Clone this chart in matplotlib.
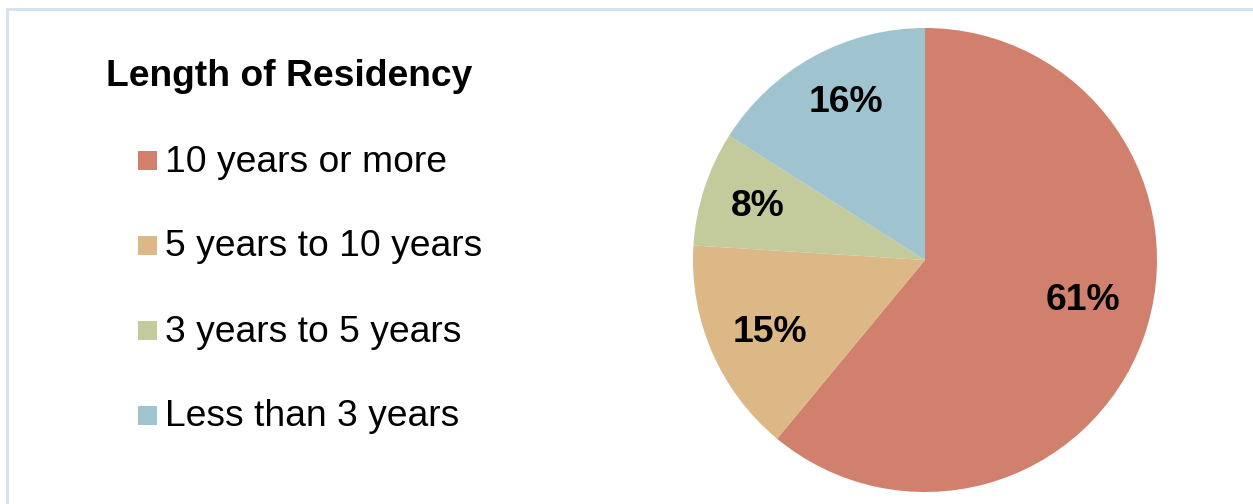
import matplotlib
matplotlib.use("Agg")
import matplotlib.pyplot as plt
from matplotlib.patches import Rectangle

categories = ["10 years or more", "5 years to 10 years", "3 years to 5 years", "Less than 3 years"]
values = [61, 15, 8, 16]
labels = ["61%", "15%", "8%", "16%"]
colors = ["#D0806C", "#DBB885", "#C3CA9B", "#9FC4CF"]
title = "Length of Residency"

W, H = 1253, 504
fig = plt.figure(figsize=(W / 100, H / 100), dpi=100)
plt.rcParams['font.family'] = ['Liberation Sans', 'DejaVu Sans']

# frame
fig.patches.append(Rectangle((7 / W, -0.1), 1.2, 1 - 9 / H + 0.1, transform=fig.transFigure,
                             fill=False, edgecolor="#D3E2EC", linewidth=2))

# pie
cx, cy, r = 925, 260, 232
ax = fig.add_axes([(cx - r) / W, (H - cy - r) / H, 2 * r / W, 2 * r / H])
wedges, _ = ax.pie(values, colors=colors, startangle=90, counterclock=False,
                   wedgeprops=dict(linewidth=0))
ax.set_aspect('equal')
ax.set_xlim(-1, 1)
ax.set_ylim(-1, 1)
ax.axis('off')

label_pos = [(1083, 300), (770, 333), (758, 207), (846, 103)]
for lab, (px, py) in zip(labels, label_pos):
    fig.text(px / W, 1 - py / H, lab, ha='center', va='center',
             fontsize=26.8, fontweight='bold', color='black')

# legend
fig.text(106 / W, 1 - 77 / H, title, ha='left', va='center',
         fontsize=26.8, fontweight='bold', color='black')
item_y = [162, 247, 332, 417]
for cat, col, y in zip(categories, colors, item_y):
    fig.patches.append(Rectangle((138 / W, 1 - (y + 8) / H), 19 / W, 19 / H,
                                 transform=fig.transFigure, facecolor=col, edgecolor='none'))
    fig.text(165 / W, 1 - y / H, cat, ha='left', va='center', fontsize=26.8, color='black')

fig.savefig("out.png", dpi=100)
